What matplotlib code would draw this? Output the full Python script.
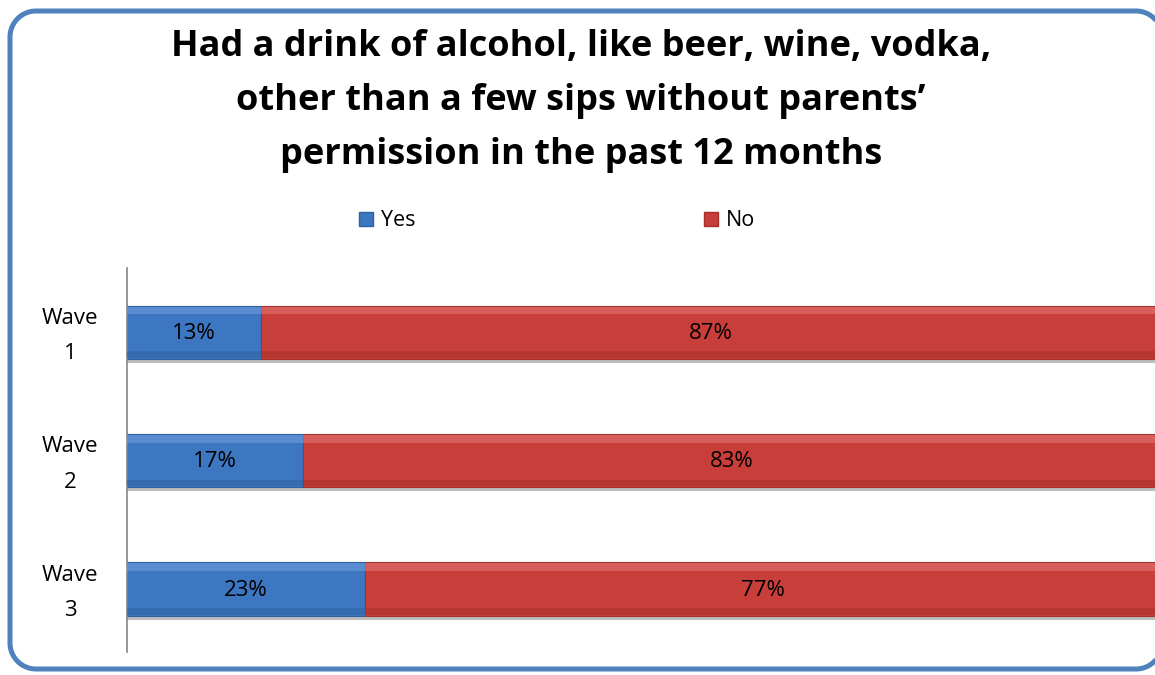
import matplotlib
matplotlib.use("Agg")
import numpy as np
import matplotlib.pyplot as plt
from matplotlib.patches import Rectangle

categories = ["Wave\n1", "Wave\n2", "Wave\n3"]
yes_pct = [13, 17, 23]
no_pct = [87, 83, 77]
series_names = ["Yes", "No"]

title = ("Had a drink of alcohol, like beer, wine, vodka,\n"
         "other than a few sips without parents\u2019\n"
         "permission in the past 12 months")

BLUE = "#3D76C1"
BLUE_HI = "#6C9CDB"
BLUE_LO = "#2F619F"
RED = "#C83E3A"
RED_HI = "#E27470"
RED_LO = "#A52F2B"
FONT = "Open Sans"

W, H = 1155, 675
fig = plt.figure(figsize=(W / 100, H / 100), dpi=100)
fig.patch.set_facecolor("white")

# background layer in pixel units for the rounded frame
bg = fig.add_axes([0, 0, 1, 1], zorder=0)
bg.set_xlim(0, W)
bg.set_ylim(H, 0)
bg.axis("off")


def rounded_rect(left, top, right, bottom, r, n=24):
    """Closed polyline of a rounded rectangle (y grows downward),
    starting from the middle of the left side."""
    pts = [(left, (top + bottom) / 2)]
    corners = [((left + r, top + r), 180, 270),
               ((right - r, top + r), 270, 360),
               ((right - r, bottom - r), 0, 90),
               ((left + r, bottom - r), 90, 180)]
    for (cx, cy), a0, a1 in corners:
        t = np.radians(np.linspace(a0, a1, n))
        pts.extend(zip(cx + r * np.cos(t), cy + r * np.sin(t)))
    pts.append(pts[0])
    return np.array(pts)


frame = rounded_rect(10, 11, 1162, 669, 26)
bg.plot(frame[:, 0], frame[:, 1], color="#4F81BD", linewidth=3.6,
        solid_joinstyle="round", solid_capstyle="butt")

fig.text(0.503, 1 - 101 / H, title, ha="center", va="center",
         fontsize=26, fontweight="bold", family=FONT, linespacing=1.66)

# plot area (runs slightly past the right edge of the figure)
x0, x1 = 127, 1161
y0, y1 = 268, 652
ax = fig.add_axes([x0 / W, 1 - y1 / H, (x1 - x0) / W, (y1 - y0) / H], zorder=1)
ax.set_xlim(0, 100)
ypos = list(range(len(categories)))
ax.set_ylim(2.49, -0.5)

bh = 0.415
totals = [a + b for a, b in zip(yes_pct, no_pct)]
# soft drop shadow under each bar
ax.barh([y + 0.03 for y in ypos], totals, height=bh, color="#BDBDBD", zorder=1)
ax.barh(ypos, yes_pct, height=bh, color=BLUE, edgecolor=BLUE_LO,
        linewidth=0.8, zorder=2)
ax.barh(ypos, no_pct, left=yes_pct, height=bh, color=RED,
        edgecolor=RED_LO, linewidth=0.8, zorder=2)
# bevel: lighter top band, darker bottom band
ax.barh([y - bh * 0.41 for y in ypos], yes_pct, height=bh * 0.14,
        color=BLUE_HI, alpha=0.6, linewidth=0, zorder=3)
ax.barh([y - bh * 0.41 for y in ypos], no_pct, left=yes_pct, height=bh * 0.14,
        color=RED_HI, alpha=0.6, linewidth=0, zorder=3)
ax.barh([y + bh * 0.42 for y in ypos], yes_pct, height=bh * 0.12,
        color=BLUE_LO, alpha=0.5, linewidth=0, zorder=3)
ax.barh([y + bh * 0.42 for y in ypos], no_pct, left=yes_pct, height=bh * 0.12,
        color=RED_LO, alpha=0.5, linewidth=0, zorder=3)

for y, a, b in zip(ypos, yes_pct, no_pct):
    ax.text(a / 2, y + 0.01, f"{a}%", ha="center", va="center",
            fontsize=16, family=FONT, zorder=4)
    ax.text(a + b / 2, y + 0.01, f"{b}%", ha="center", va="center",
            fontsize=16, family=FONT, zorder=4)

ax.set_yticks([y + 0.03 for y in ypos])
ax.set_yticklabels(categories, fontsize=16, family=FONT,
                   linespacing=1.9, ha="center", va="center")
ax.tick_params(axis="y", length=0, pad=41)
ax.set_xticks([])
for s in ["top", "right", "bottom"]:
    ax.spines[s].set_visible(False)
ax.spines["left"].set_color("#868686")
ax.spines["left"].set_linewidth(1.2)
ax.set_facecolor("none")

handles = [Rectangle((0, 0), 1, 1, facecolor=BLUE, edgecolor=BLUE_LO),
           Rectangle((0, 0), 1, 1, facecolor=RED, edgecolor=RED_LO)]
fig.legend(handles, series_names, loc="center",
           bbox_to_anchor=(557 / W, 1 - 221 / H), ncol=2, frameon=False,
           columnspacing=13.4, handlelength=0.65, handleheight=0.65,
           handletextpad=0.35, prop={"family": FONT, "size": 15.5})

fig.savefig("out.png", dpi=100)
